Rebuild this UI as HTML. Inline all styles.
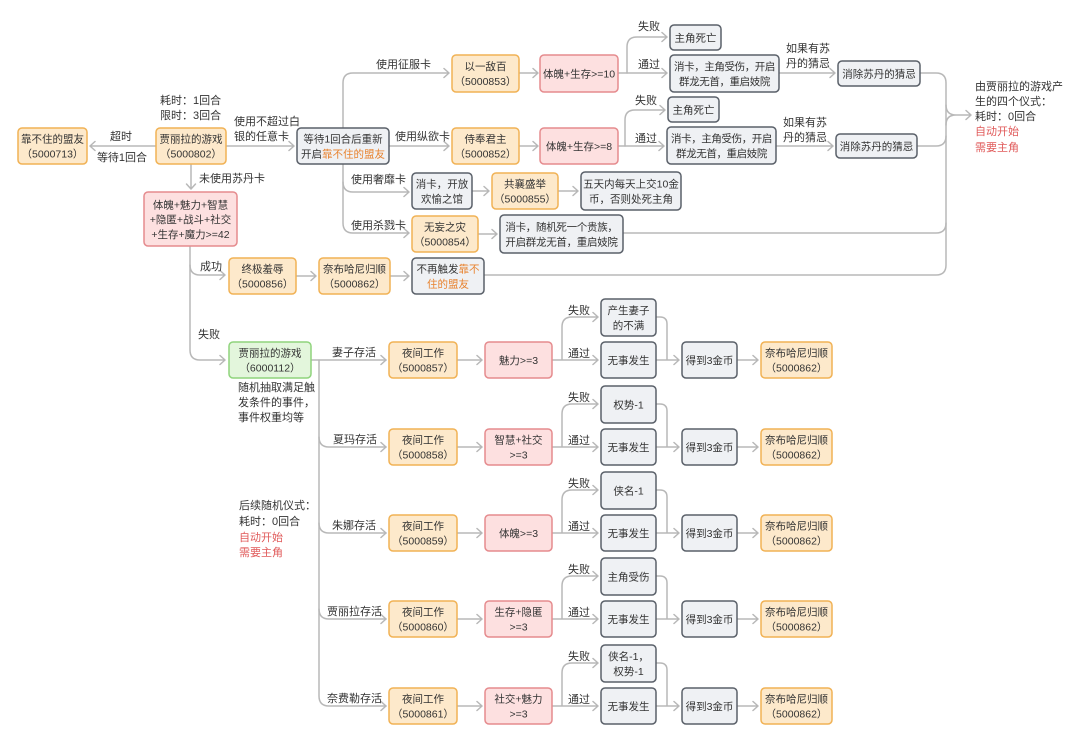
<!DOCTYPE html>
<html><head><meta charset="utf-8"><style>
html,body{margin:0;padding:0;background:#fff;}
svg{display:block;}
text{font-family:"Liberation Sans","Noto Sans CJK SC",sans-serif;font-size:11px;fill:#333;}
.m{text-anchor:middle;font-size:10.5px;}
.l{font-size:11px;}
.o{fill:#e8822e;}
.r{fill:#e05a5a;}
.bo{fill:#fde9cb;stroke:#f1b255;stroke-width:1.5;}
.bp{fill:#fde0e0;stroke:#e58b8e;stroke-width:1.5;}
.bg{fill:#eff1f4;stroke:#5a6069;stroke-width:1.5;}
.bgr{fill:#e3f6dc;stroke:#8fd47c;stroke-width:1.5;}
</style></head><body>
<svg width="1080" height="743" viewBox="0 0 1080 743" xmlns="http://www.w3.org/2000/svg">
<rect width="1080" height="743" fill="#fff"/>
<g fill="none" stroke="#b8b8b8" stroke-width="1.5" stroke-linecap="round" stroke-linejoin="round">
<path d="M156 146H90M95 141.5L90 146L95 150.5"/>
<path d="M226 146H294M289 141.5L294 146L289 150.5"/>
<path d="M191 164V189M186.5 184L191 189L195.5 184"/>
<path d="M190 246V350Q190 360 200 360H225M220 355.5L225 360L220 364.5"/>
<path d="M190 265Q190 275 200 275H225M220 270.5L225 275L220 279.5"/>
<path d="M296 276H316M311 271.5L316 276L311 280.5"/>
<path d="M390 276H409M404 271.5L409 276L404 280.5"/>
<path d="M484 275H936Q946 275 946 265V83Q946 73 936 73H920"/>
<path d="M623 233H936Q946 233 946 223"/>
<path d="M917 146H936Q946 146 946 136"/>
<path d="M946 105Q946 115 956 115H971M946 125Q946 115 956 115M966 110.5L971 115L966 119.5"/>
<path d="M343 128V83Q343 73 353 73H449M444 68.5L449 73L444 77.5"/>
<path d="M389 146H449M444 141.5L449 146L444 150.5"/>
<path d="M343 164V223Q343 233 353 233H409M404 228.5L409 233L404 237.5"/>
<path d="M343 182Q343 192 353 192H409M404 187.5L409 192L404 196.5"/>
<path d="M519 73H538M533 68.5L538 73L533 77.5"/>
<path d="M618 73H667M662 68.5L667 73L662 77.5"/>
<path d="M627 73V47Q627 37 637 37H667M662 32.5L667 37L662 41.5"/>
<path d="M779 73H835M830 68.5L835 73L830 77.5"/>
<path d="M519 146H538M533 141.5L538 146L533 150.5"/>
<path d="M618 146H664M659 141.5L664 146L659 150.5"/>
<path d="M625 146V120Q625 110 635 110H665M660 105.5L665 110L660 114.5"/>
<path d="M776 146H833M828 141.5L833 146L828 150.5"/>
<path d="M472 191H489M484 186.5L489 191L484 195.5"/>
<path d="M558 191H578M573 186.5L578 191L573 195.5"/>
<path d="M478 234H497M492 229.5L497 234L492 238.5"/>
<path d="M311 360H386"/>
<path d="M319 360V696Q319 706 329 706H386"/>
<path d="M319 437Q319 447 329 447H386"/>
<path d="M319 523Q319 533 329 533H386"/>
<path d="M319 609Q319 619 329 619H386"/>
<path d="M381 355.5L386 360L381 364.5M457 360H482M477 355.5L482 360L477 364.5M552 360H598M593 355.5L598 360L593 364.5M562 360V327Q562 317 572 317H598M593 312.5L598 317L593 321.5M656 317H660Q667 317 667 324V360M656 360H679M674 355.5L679 360L674 364.5M737 360H758M753 355.5L758 360L753 364.5"/>
<path d="M381 442.5L386 447L381 451.5M457 447H482M477 442.5L482 447L477 451.5M552 447H598M593 442.5L598 447L593 451.5M562 447V414Q562 404 572 404H598M593 399.5L598 404L593 408.5M656 404H660Q667 404 667 411V447M656 447H679M674 442.5L679 447L674 451.5M737 447H758M753 442.5L758 447L753 451.5"/>
<path d="M381 528.5L386 533L381 537.5M457 533H482M477 528.5L482 533L477 537.5M552 533H598M593 528.5L598 533L593 537.5M562 533V500Q562 490 572 490H598M593 485.5L598 490L593 494.5M656 490H660Q667 490 667 497V533M656 533H679M674 528.5L679 533L674 537.5M737 533H758M753 528.5L758 533L753 537.5"/>
<path d="M381 614.5L386 619L381 623.5M457 619H482M477 614.5L482 619L477 623.5M552 619H598M593 614.5L598 619L593 623.5M562 619V586Q562 576 572 576H598M593 571.5L598 576L593 580.5M656 576H660Q667 576 667 583V619M656 619H679M674 614.5L679 619L674 623.5M737 619H758M753 614.5L758 619L753 623.5"/>
<path d="M381 701.5L386 706L381 710.5M457 706H482M477 701.5L482 706L477 710.5M552 706H598M593 701.5L598 706L593 710.5M562 706V673Q562 663 572 663H598M593 658.5L598 663L593 667.5M656 663H660Q667 663 667 670V706M656 706H679M674 701.5L679 706L674 710.5M737 706H758M753 701.5L758 706L753 710.5"/>
</g>

<rect class="bo" x="18" y="128" width="69" height="36" rx="4"/>
<rect class="bo" x="156" y="128" width="70" height="36" rx="4"/>
<rect class="bg" x="297" y="128" width="92" height="36" rx="4"/>
<rect class="bo" x="452" y="55" width="67" height="37" rx="4"/>
<rect class="bp" x="540" y="55" width="78" height="37" rx="4"/>
<rect class="bg" x="670" y="25" width="51" height="25" rx="4"/>
<rect class="bg" x="670" y="55" width="109" height="37" rx="4"/>
<rect class="bg" x="838" y="61" width="82" height="25" rx="4"/>
<rect class="bo" x="452" y="128" width="67" height="36" rx="4"/>
<rect class="bp" x="540" y="128" width="78" height="36" rx="4"/>
<rect class="bg" x="668" y="97" width="51" height="25" rx="4"/>
<rect class="bg" x="667" y="127" width="109" height="37" rx="4"/>
<rect class="bg" x="836" y="134" width="81" height="24" rx="4"/>
<rect class="bg" x="412" y="173" width="60" height="36" rx="4"/>
<rect class="bo" x="492" y="173" width="66" height="36" rx="4"/>
<rect class="bg" x="581" y="172" width="100" height="38" rx="4"/>
<rect class="bo" x="412" y="216" width="66" height="36" rx="4"/>
<rect class="bg" x="500" y="215" width="123" height="38" rx="4"/>
<rect class="bp" x="144" y="192" width="93" height="54" rx="4"/>
<rect class="bo" x="229" y="258" width="67" height="36" rx="4"/>
<rect class="bo" x="319" y="258" width="71" height="36" rx="4"/>
<rect class="bg" x="412" y="258" width="72" height="36" rx="4"/>
<rect class="bgr" x="229" y="342" width="82" height="36" rx="4"/>

<g>
<rect class="bo" x="389" y="342" width="68" height="36" rx="4"/>
<rect class="bp" x="485" y="342" width="67" height="36" rx="4"/>
<rect class="bg" x="601" y="299" width="55" height="37" rx="4"/>
<rect class="bg" x="601" y="342" width="55" height="36" rx="4"/>
<rect class="bg" x="682" y="342" width="55" height="36" rx="4"/>
<rect class="bo" x="761" y="342" width="71" height="36" rx="4"/>

<rect class="bo" x="389" y="429" width="68" height="36" rx="4"/>
<rect class="bp" x="485" y="429" width="67" height="36" rx="4"/>
<rect class="bg" x="601" y="386" width="55" height="37" rx="4"/>
<rect class="bg" x="601" y="429" width="55" height="36" rx="4"/>
<rect class="bg" x="682" y="429" width="55" height="36" rx="4"/>
<rect class="bo" x="761" y="429" width="71" height="36" rx="4"/>

<rect class="bo" x="389" y="515" width="68" height="36" rx="4"/>
<rect class="bp" x="485" y="515" width="67" height="36" rx="4"/>
<rect class="bg" x="601" y="472" width="55" height="37" rx="4"/>
<rect class="bg" x="601" y="515" width="55" height="36" rx="4"/>
<rect class="bg" x="682" y="515" width="55" height="36" rx="4"/>
<rect class="bo" x="761" y="515" width="71" height="36" rx="4"/>

<rect class="bo" x="389" y="601" width="68" height="36" rx="4"/>
<rect class="bp" x="485" y="601" width="67" height="36" rx="4"/>
<rect class="bg" x="601" y="558" width="55" height="37" rx="4"/>
<rect class="bg" x="601" y="601" width="55" height="36" rx="4"/>
<rect class="bg" x="682" y="601" width="55" height="36" rx="4"/>
<rect class="bo" x="761" y="601" width="71" height="36" rx="4"/>

<rect class="bo" x="389" y="688" width="68" height="36" rx="4"/>
<rect class="bp" x="485" y="688" width="67" height="36" rx="4"/>
<rect class="bg" x="601" y="645" width="55" height="37" rx="4"/>
<rect class="bg" x="601" y="688" width="55" height="36" rx="4"/>
<rect class="bg" x="682" y="688" width="55" height="36" rx="4"/>
<rect class="bo" x="761" y="688" width="71" height="36" rx="4"/>
</g>

<text class="m" x="52.5" y="142.5">靠不住的盟友</text>
<text class="m" x="52.5" y="157.5">（5000713）</text>
<text class="m" x="191" y="142.5">贾丽拉的游戏</text>
<text class="m" x="191" y="157.5">（5000802）</text>
<text class="m" x="343" y="142.5">等待1回合后重新</text>
<text class="m" x="343" y="157.5">开启<tspan class="o">靠不住的盟友</tspan></text>
<text class="m" x="485.5" y="70">以一敌百</text>
<text class="m" x="485.5" y="85">（5000853）</text>
<text class="m" x="579" y="77.5">体魄+生存&gt;=10</text>
<text class="m" x="695.5" y="41.5">主角死亡</text>
<text class="m" x="724.5" y="70" letter-spacing="-0.4">消卡，主角受伤，开启</text>
<text class="m" x="724.5" y="85" letter-spacing="-0.4">群龙无首，重启妓院</text>
<text class="m" x="879" y="77.5">消除苏丹的猜忌</text>
<text class="m" x="485.5" y="142.5">侍奉君主</text>
<text class="m" x="485.5" y="157.5">（5000852）</text>
<text class="m" x="579" y="150">体魄+生存&gt;=8</text>
<text class="m" x="693.5" y="113.5">主角死亡</text>
<text class="m" x="721.5" y="142" letter-spacing="-0.4">消卡，主角受伤，开启</text>
<text class="m" x="721.5" y="157" letter-spacing="-0.4">群龙无首，重启妓院</text>
<text class="m" x="876.5" y="150">消除苏丹的猜忌</text>
<text class="m" x="442" y="187.5">消卡，开放</text>
<text class="m" x="442" y="202.5">欢愉之馆</text>
<text class="m" x="525" y="187.5">共襄盛举</text>
<text class="m" x="525" y="202.5">（5000855）</text>
<text class="m" x="631" y="187.5">五天内每天上交10金</text>
<text class="m" x="631" y="202.5">币，否则处死主角</text>
<text class="m" x="445" y="230.5">无妄之灾</text>
<text class="m" x="445" y="245.5">（5000854）</text>
<text class="m" x="561.5" y="230.5" letter-spacing="-0.3">消卡，随机死一个贵族，</text>
<text class="m" x="561.5" y="245.5" letter-spacing="-0.3">开启群龙无首，重启妓院</text>
<text class="m" x="190.5" y="208.5">体魄+魅力+智慧</text>
<text class="m" x="190.5" y="223">+隐匿+战斗+社交</text>
<text class="m" x="190.5" y="238">+生存+魔力&gt;=42</text>
<text class="m" x="262.5" y="272.5">终极羞辱</text>
<text class="m" x="262.5" y="287.5">（5000856）</text>
<text class="m" x="354.5" y="272.5">奈布哈尼归顺</text>
<text class="m" x="354.5" y="287.5">（5000862）</text>
<text class="m" x="448" y="272.5">不再触发<tspan class="o">靠不</tspan></text>
<text class="m o" x="448" y="287.5">住的盟友</text>
<text class="m" x="270" y="356.5">贾丽拉的游戏</text>
<text class="m" x="270" y="371.5">（6000112）</text>

<text class="m" x="423" y="356.5">夜间工作</text><text class="m" x="423" y="371.5">（5000857）</text>
<text class="m" x="518.5" y="364">魅力&gt;=3</text>
<text class="m" x="628.5" y="314">产生妻子</text><text class="m" x="628.5" y="329">的不满</text>
<text class="m" x="628.5" y="364">无事发生</text>
<text class="m" x="709.5" y="364">得到3金币</text>
<text class="m" x="796.5" y="356.5">奈布哈尼归顺</text><text class="m" x="796.5" y="371.5">（5000862）</text>

<text class="m" x="423" y="443.5">夜间工作</text><text class="m" x="423" y="458.5">（5000858）</text>
<text class="m" x="518.5" y="443.5">智慧+社交</text><text class="m" x="518.5" y="458.5">&gt;=3</text>
<text class="m" x="628.5" y="408.5">权势-1</text>
<text class="m" x="628.5" y="451">无事发生</text>
<text class="m" x="709.5" y="451">得到3金币</text>
<text class="m" x="796.5" y="443.5">奈布哈尼归顺</text><text class="m" x="796.5" y="458.5">（5000862）</text>

<text class="m" x="423" y="529.5">夜间工作</text><text class="m" x="423" y="544.5">（5000859）</text>
<text class="m" x="518.5" y="537">体魄&gt;=3</text>
<text class="m" x="628.5" y="494.5">侠名-1</text>
<text class="m" x="628.5" y="537">无事发生</text>
<text class="m" x="709.5" y="537">得到3金币</text>
<text class="m" x="796.5" y="529.5">奈布哈尼归顺</text><text class="m" x="796.5" y="544.5">（5000862）</text>

<text class="m" x="423" y="615.5">夜间工作</text><text class="m" x="423" y="630.5">（5000860）</text>
<text class="m" x="518.5" y="615.5">生存+隐匿</text><text class="m" x="518.5" y="630.5">&gt;=3</text>
<text class="m" x="628.5" y="580.5">主角受伤</text>
<text class="m" x="628.5" y="623">无事发生</text>
<text class="m" x="709.5" y="623">得到3金币</text>
<text class="m" x="796.5" y="615.5">奈布哈尼归顺</text><text class="m" x="796.5" y="630.5">（5000862）</text>

<text class="m" x="423" y="702.5">夜间工作</text><text class="m" x="423" y="717.5">（5000861）</text>
<text class="m" x="518.5" y="702.5">社交+魅力</text><text class="m" x="518.5" y="717.5">&gt;=3</text>
<text class="m" x="628.5" y="660">侠名-1，</text><text class="m" x="628.5" y="675">权势-1</text>
<text class="m" x="628.5" y="710">无事发生</text>
<text class="m" x="709.5" y="710">得到3金币</text>
<text class="m" x="796.5" y="702.5">奈布哈尼归顺</text><text class="m" x="796.5" y="717.5">（5000862）</text>

<text x="160" y="104">耗时：1回合</text>
<text x="160" y="119">限时：3回合</text>
<text class="m l" x="121" y="140">超时</text>
<text class="m l" x="122" y="161">等待1回合</text>
<text x="234" y="125">使用不超过白</text>
<text x="234" y="140">银的任意卡</text>
<text x="199" y="182">未使用苏丹卡</text>
<text x="200" y="270">成功</text>
<text x="198" y="338">失败</text>
<text x="238" y="391">随机抽取满足触</text>
<text x="238" y="406">发条件的事件，</text>
<text x="238" y="421">事件权重均等</text>
<text x="239" y="509">后续随机仪式：</text>
<text x="239" y="525">耗时：0回合</text>
<text class="r" x="239" y="541">自动开始</text>
<text class="r" x="239" y="556">需要主角</text>

<text x="376" y="68">使用征服卡</text>
<text x="395" y="140">使用纵欲卡</text>
<text x="351" y="183">使用奢靡卡</text>
<text x="351" y="229">使用杀戮卡</text>

<text x="638" y="30">失败</text>
<text x="638" y="68">通过</text>
<text x="635" y="104">失败</text>
<text x="635" y="142">通过</text>
<text x="786" y="52">如果有苏</text>
<text x="786" y="67">丹的猜忌</text>
<text x="783" y="126">如果有苏</text>
<text x="783" y="141">丹的猜忌</text>

<text x="975" y="90">由贾丽拉的游戏产</text>
<text x="975" y="105">生的四个仪式：</text>
<text x="975" y="120">耗时：0回合</text>
<text class="r" x="975" y="135">自动开始</text>
<text class="r" x="975" y="151">需要主角</text>

<text x="332" y="356">妻子存活</text>
<text x="333" y="443">夏玛存活</text>
<text x="332" y="529">朱娜存活</text>
<text x="327" y="615">贾丽拉存活</text>
<text x="327" y="702">奈费勒存活</text>

<text x="568" y="314">失败</text><text x="568" y="357">通过</text>
<text x="568" y="401">失败</text><text x="568" y="444">通过</text>
<text x="568" y="487">失败</text><text x="568" y="530">通过</text>
<text x="568" y="573">失败</text><text x="568" y="616">通过</text>
<text x="568" y="660">失败</text><text x="568" y="703">通过</text>
</svg>
</body></html>
